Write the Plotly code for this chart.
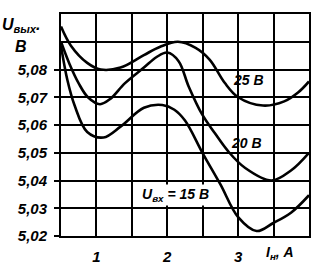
import plotly.graph_objects as go

# Data
x25 = [0.5, 0.64, 0.87, 1.06, 1.34, 1.67, 1.9, 2.15, 2.4, 2.6, 2.81, 3.0, 3.35, 3.65, 3.85, 4.0]
y25 = [5.0955, 5.0886, 5.0824, 5.0800, 5.0807, 5.0852, 5.0882, 5.0900, 5.0878, 5.0835, 5.0752, 5.0700, 5.0670, 5.0685, 5.0718, 5.0757]

x20 = [0.5, 0.62, 0.75, 0.88, 1.05, 1.2, 1.4, 1.67, 1.85, 2.0, 2.16, 2.3, 2.49, 2.67, 2.86, 3.1, 3.47, 3.75, 4.0]
y20 = [5.0900, 5.0820, 5.0750, 5.0700, 5.0675, 5.0695, 5.0750, 5.0807, 5.0845, 5.0861, 5.0830, 5.0740, 5.0639, 5.0571, 5.0505, 5.0445, 5.0400, 5.0437, 5.0500]

x15 = [0.5, 0.59, 0.69, 0.87, 1.1, 1.34, 1.67, 1.93, 2.1, 2.25, 2.5, 2.75, 3.0, 3.26, 3.49, 3.75, 4.0]
y15 = [5.0885, 5.0762, 5.0672, 5.0575, 5.0555, 5.0594, 5.0662, 5.0672, 5.0655, 5.0616, 5.0498, 5.0386, 5.0268, 5.0218, 5.0246, 5.0285, 5.0347]

y_ticks = [5.02, 5.03, 5.04, 5.05, 5.06, 5.07, 5.08]
y_ticktext = ["5,02", "5,03", "5,04", "5,05", "5,06", "5,07", "5,08"]
x_ticks = [1, 2, 3]
x_ticktext = ["1", "2", "3"]

FONT = "Liberation Sans"
ink = "black"

fig = go.Figure()
for xs, ys in [(x25, y25), (x20, y20), (x15, y15)]:
    fig.add_trace(go.Scatter(x=xs, y=ys, mode="lines",
                             line=dict(color=ink, width=2.6, shape="spline", smoothing=1.0),
                             showlegend=False, hoverinfo="skip"))

tf = dict(family=FONT, size=15, color=ink, weight="bold")

fig.update_xaxes(range=[0.5, 4.0], tickvals=x_ticks, ticktext=["<i>%s</i>" % t for t in x_ticktext],
                 showgrid=True, gridcolor=ink, gridwidth=1.6,
                 minor=dict(tick0=0.5, dtick=0.5, showgrid=True, gridcolor=ink, gridwidth=1.6),
                 showline=True, linecolor=ink, linewidth=2, mirror=True,
                 ticks="", tickfont=tf, zeroline=False, ticklabelstandoff=6)
fig.update_yaxes(range=[5.02, 5.10], tickvals=y_ticks, ticktext=["<i>%s</i>" % t for t in y_ticktext],
                 showgrid=True, gridcolor=ink, gridwidth=1.6,
                 minor=dict(tick0=5.02, dtick=0.01, showgrid=True, gridcolor=ink, gridwidth=1.6),
                 showline=True, linecolor=ink, linewidth=2, mirror=True,
                 ticks="outside", ticklen=5, tickwidth=1.6, tickcolor=ink,
                 tickfont=tf, zeroline=False, ticklabelstandoff=4)

af = dict(family=FONT, size=14, color=ink, weight="bold")
ann = [
    dict(x=3.14, y=5.0762, text="<i>25 В</i>", xref="x", yref="y", showarrow=False, font=af),
    dict(x=3.12, y=5.0534, text="<i>20 В</i>", xref="x", yref="y", showarrow=False, font=af),
    dict(x=2.12, y=5.0349, text="<i>U<sub>вх</sub> = 15 В</i>", xref="x", yref="y", showarrow=False, font=af, bgcolor="white"),
    dict(x=3.59, y=-0.025, text="<i>I<sub>н</sub>, А</i>", xref="x", yref="paper", showarrow=False, font=af,
         xanchor="center", yanchor="top"),
    dict(x=-0.16, y=1.0, text="<i>U<sub>вых</sub>.</i>", xref="paper", yref="paper", showarrow=False,
         font=dict(family=FONT, size=16, color=ink, weight="bold"), xanchor="center", yanchor="top"),
    dict(x=-0.16, y=0.90, text="<i>В</i>", xref="paper", yref="paper", showarrow=False,
         font=dict(family=FONT, size=16, color=ink, weight="bold"), xanchor="center", yanchor="top"),
]
fig.update_layout(width=323, height=277, margin=dict(l=61, r=12, t=12, b=27),
                  paper_bgcolor="white", plot_bgcolor="white", annotations=ann)
fig.write_html("out.html")
